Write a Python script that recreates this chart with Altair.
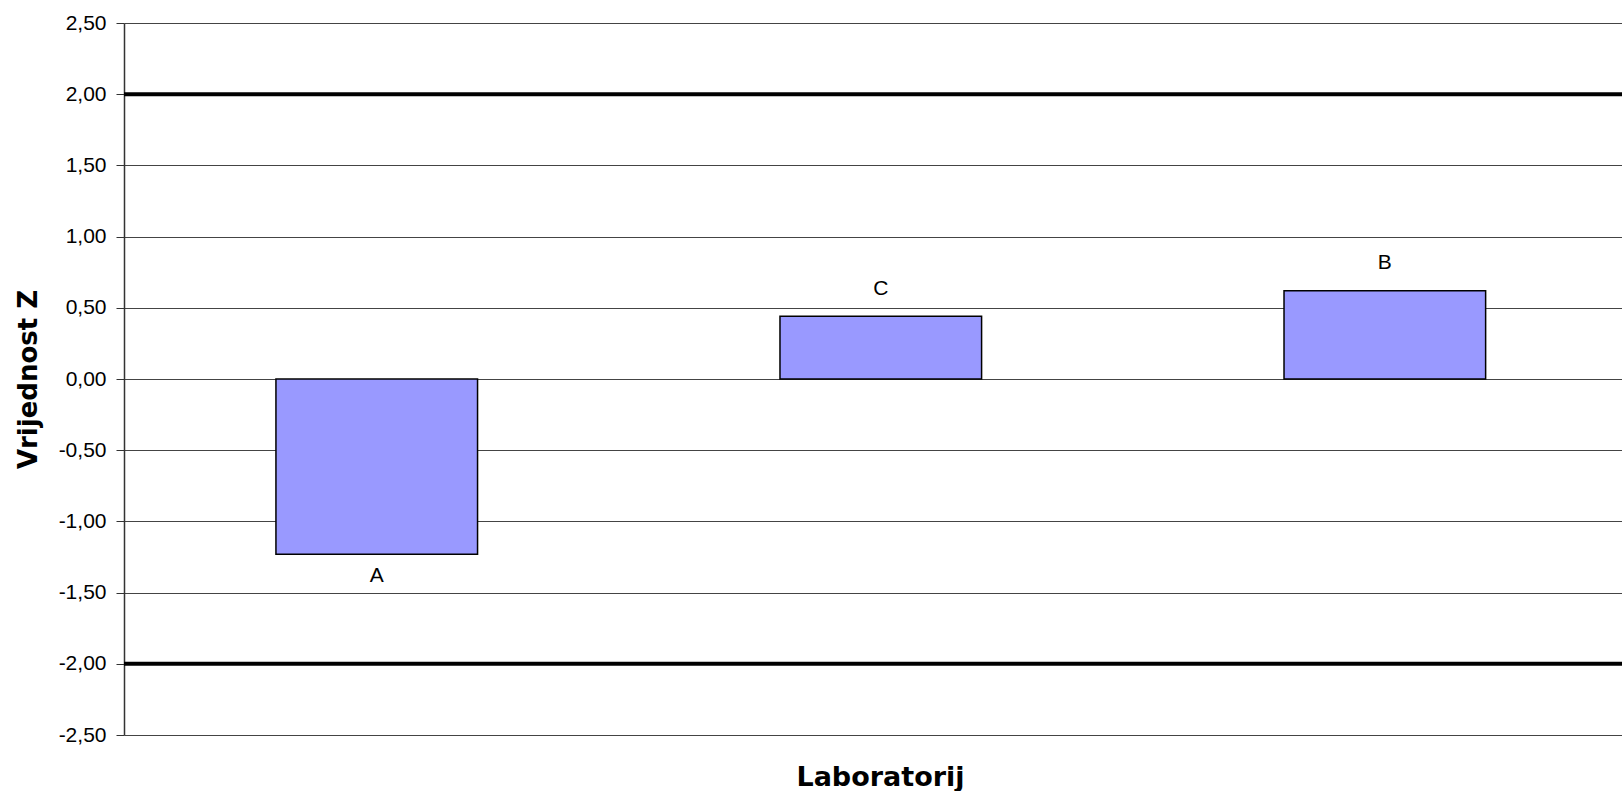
import altair as alt
import pandas as pd

# Laboratory results
labs = ["A", "C", "B"]
z_values = [-1.23, 0.44, 0.62]

# Acceptance limits for the z-score
limit_values = [2.0, -2.0]

# Y axis tick values
y_ticks = [-2.5, -2.0, -1.5, -1.0, -0.5, 0.0, 0.5, 1.0, 1.5, 2.0, 2.5]

bars_df = pd.DataFrame({"lab": labs, "z": z_values})
limits_df = pd.DataFrame({"lim": limit_values})

x_enc = alt.X(
    "lab:N",
    sort=labs,
    scale=alt.Scale(paddingInner=0.6, paddingOuter=0.286, align=0.527),
    axis=alt.Axis(
        title="Laboratorij",
        labels=False,
        ticks=False,
        domain=False,
        grid=False,
        titleFont="DejaVu Sans",
        titleFontWeight="bold",
        titleFontSize=27,
        titleColor="black",
        titleX=756,
        titleY=50,
        titleAlign="center",
        titleBaseline="alphabetic",
    ),
)

y_scale = alt.Scale(domain=[-2.5, 2.5], nice=False, zero=False)

y_enc = alt.Y(
    "z:Q",
    scale=y_scale,
    axis=alt.Axis(
        title="Vrijednost Z",
        values=y_ticks,
        labelExpr="replace(replace(format(datum.value, '.2f'), '.', ','), '\u2212', '-')",
        labelFont="Liberation Sans",
        labelFontSize=21,
        labelColor="black",
        labelPadding=10,
        tickSize=8,
        tickColor="#333333",
        domainColor="#333333",
        domainWidth=1.5,
        grid=True,
        gridColor="#444444",
        gridWidth=1,
        titleFont="DejaVu Sans",
        titleFontWeight="bold",
        titleFontSize=26,
        titleColor="black",
        titleX=-96,
        titleY=356,
        titleAngle=-90,
        titleAlign="center",
        titleBaseline="middle",
    ),
)

bars = alt.Chart(bars_df).mark_bar(
    fill="#9999FF", stroke="black", strokeWidth=1.5
).encode(x=x_enc, y=y_enc)

label_pos = alt.Chart(bars_df).transform_filter("datum.z >= 0").mark_text(
    font="Liberation Sans", fontSize=21, color="black",
    baseline="alphabetic", dy=-21.5
).encode(x=alt.X("lab:N", sort=labs), y=alt.Y("z:Q", scale=y_scale), text="lab:N")

label_neg = alt.Chart(bars_df).transform_filter("datum.z < 0").mark_text(
    font="Liberation Sans", fontSize=21, color="black",
    baseline="alphabetic", dy=28
).encode(x=alt.X("lab:N", sort=labs), y=alt.Y("z:Q", scale=y_scale), text="lab:N")

limits = alt.Chart(limits_df).mark_rule(color="black", strokeWidth=4).encode(
    y=alt.Y("lim:Q", scale=y_scale)
)

chart = (
    alt.layer(bars, limits, label_pos, label_neg)
    .properties(
        width=1498,
        height=712,
        autosize=alt.AutoSizeParams(type="none"),
        padding={"left": 124, "top": 23, "right": 0, "bottom": 56},
        background="white",
    )
    .configure_view(stroke=None)
)

chart.save("out.html", embed_options={"renderer": "svg", "actions": False})
